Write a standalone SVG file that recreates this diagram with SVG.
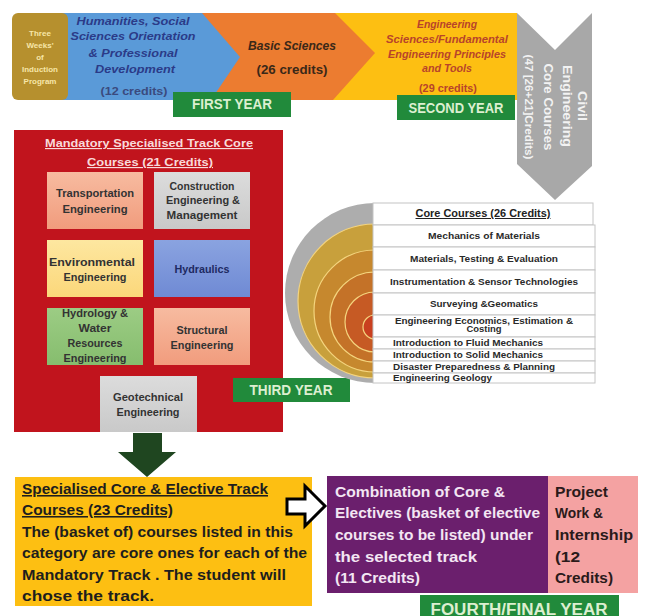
<svg xmlns="http://www.w3.org/2000/svg" width="646" height="616" viewBox="0 0 646 616">
<defs>
<style>
text{font-family:"Liberation Sans",Arial,sans-serif;font-weight:bold}
.m{text-anchor:middle}
.bi{font-style:italic}
.yr rect{fill:#218a3b}
.yr text{fill:#dcefd0;font-size:14px;text-anchor:middle}
.ib text{font-size:11px;fill:#333;text-anchor:middle}
.row{fill:#fff;stroke:#c4c4c4;stroke-width:1}
.rt{font-size:9.5px;fill:#2a2a2a}
.ring{stroke:#f4d47e;stroke-width:1.2}
.ch text{fill:#f2f2f2;text-anchor:middle}
.yb text{font-size:15.5px;fill:#1e1e1e}
.pb text{font-size:15.5px;fill:#f3e6f3}
.kb text{font-size:15.5px;fill:#2a1a1a}
</style>
<linearGradient id="salmon" x1="0" y1="0" x2="0" y2="1"><stop offset="0" stop-color="#f7bba0"/><stop offset="1" stop-color="#f19c7d"/></linearGradient>
<linearGradient id="grey" x1="0" y1="0" x2="0" y2="1"><stop offset="0" stop-color="#dcdcdc"/><stop offset="1" stop-color="#c9c9c9"/></linearGradient>
<linearGradient id="yel" x1="0" y1="0" x2="0" y2="1"><stop offset="0" stop-color="#fde7a0"/><stop offset="1" stop-color="#fbd77a"/></linearGradient>
<linearGradient id="blu" x1="0" y1="0" x2="0" y2="1"><stop offset="0" stop-color="#8aa3e0"/><stop offset="1" stop-color="#6f8ad4"/></linearGradient>
<linearGradient id="grn" x1="0" y1="0" x2="0" y2="1"><stop offset="0" stop-color="#9ccc84"/><stop offset="1" stop-color="#86bd6e"/></linearGradient>
<clipPath id="half"><rect x="270" y="190" width="105" height="200"/></clipPath>
</defs>
<rect width="646" height="616" fill="#fff"/>

<!-- Top banner -->
<g id="eng-sciences">
<polygon points="325,13 517,13 517,100 325,100" fill="#fdbf12"/>
<text class="m bi" x="447" y="28" font-size="11" fill="#b8442a" textLength="60" lengthAdjust="spacingAndGlyphs">Engineering</text>
<text class="m bi" x="447" y="43" font-size="11" fill="#b8442a" textLength="122" lengthAdjust="spacingAndGlyphs">Sciences/Fundamental</text>
<text class="m bi" x="447" y="58" font-size="11" fill="#b8442a" textLength="118" lengthAdjust="spacingAndGlyphs">Engineering  Principles</text>
<text class="m bi" x="447" y="72" font-size="11" fill="#b8442a" textLength="50" lengthAdjust="spacingAndGlyphs">and Tools</text>
<text class="m" x="448" y="92" font-size="11" fill="#b8442a" textLength="58" lengthAdjust="spacingAndGlyphs">(29 credits)</text>
</g>
<g id="basic-sciences">
<polygon points="195,13 335,13 375,53 333,100 195,100" fill="#ec7c30"/>
<text class="m bi" x="292" y="50" font-size="12" fill="#3a2818" textLength="88" lengthAdjust="spacingAndGlyphs">Basic Sciences</text>
<text class="m" x="292" y="74" font-size="12" fill="#3a2818" textLength="71" lengthAdjust="spacingAndGlyphs">(26 credits)</text>
</g>
<g id="humanities">
<polygon points="60,13 202,13 240,57 211,100 60,100" fill="#5a9ad8"/>
<text class="m bi" x="133" y="25" font-size="11.5" fill="#2b3b88" textLength="113" lengthAdjust="spacingAndGlyphs">Humanities, Social</text>
<text class="m bi" x="133" y="40" font-size="11.5" fill="#2b3b88" textLength="125" lengthAdjust="spacingAndGlyphs">Sciences Orientation</text>
<text class="m bi" x="133" y="57" font-size="11.5" fill="#2b3b88" textLength="89" lengthAdjust="spacingAndGlyphs">&amp; Professional</text>
<text class="m bi" x="135" y="73" font-size="11.5" fill="#2b3b88" textLength="80" lengthAdjust="spacingAndGlyphs">Development</text>
<text class="m" x="134" y="95" font-size="11.5" fill="#3a4a7e" textLength="67" lengthAdjust="spacingAndGlyphs">(12 credits)</text>
</g>
<g id="induction">
<rect x="12" y="13" width="56" height="87" rx="6" fill="#b6902e"/>
<text class="m" x="40" y="36" font-size="8" fill="#f6e6a8">Three</text>
<text class="m" x="40" y="48" font-size="8" fill="#f6e6a8">Weeks'</text>
<text class="m" x="40" y="60" font-size="8" fill="#f6e6a8">of</text>
<text class="m" x="40" y="72" font-size="8" fill="#f6e6a8">Induction</text>
<text class="m" x="40" y="84" font-size="8" fill="#f6e6a8">Program</text>
</g>
<g id="first-year" class="yr">
<rect x="173" y="92" width="118" height="25"/>
<text x="232" y="109" textLength="80" lengthAdjust="spacingAndGlyphs">FIRST YEAR</text>
</g>
<g id="second-year" class="yr">
<rect x="397" y="95" width="118" height="25"/>
<text x="456" y="113" textLength="95" lengthAdjust="spacingAndGlyphs">SECOND YEAR</text>
</g>

<!-- Civil engineering core chevron -->
<g id="civil-core" class="ch">
<polygon points="517,13 555,50 592,13 592,166 555,200 517,164" fill="#a8a8a8"/>
<text transform="translate(578,106) rotate(90)" font-size="13" textLength="30" lengthAdjust="spacingAndGlyphs">Civil</text>
<text transform="translate(563,106) rotate(90)" font-size="13" textLength="82" lengthAdjust="spacingAndGlyphs">Engineering</text>
<text transform="translate(544,107) rotate(90)" font-size="13" textLength="87" lengthAdjust="spacingAndGlyphs">Core Courses</text>
<text transform="translate(525,107) rotate(90)" font-size="10" textLength="105" lengthAdjust="spacingAndGlyphs">(47 [26+21]Credits)</text>
</g>

<!-- Mandatory specialised track -->
<g id="mandatory-track">
<rect x="14" y="130" width="269" height="302" fill="#c1141d"/>
<text class="m" x="149" y="147" font-size="11.5" fill="#f8dada" text-decoration="underline" textLength="208" lengthAdjust="spacingAndGlyphs">Mandatory Specialised Track Core</text>
<text class="m" x="150" y="166" font-size="11.5" fill="#f8dada" text-decoration="underline" textLength="126" lengthAdjust="spacingAndGlyphs">Courses  (21 Credits)</text>
</g>
<g id="transportation" class="ib">
<rect x="47" y="172" width="96" height="57" fill="url(#salmon)"/>
<text x="95" y="197" textLength="78" lengthAdjust="spacingAndGlyphs">Transportation</text>
<text x="95" y="213" textLength="65" lengthAdjust="spacingAndGlyphs">Engineering</text>
</g>
<g id="construction" class="ib">
<rect x="154" y="172" width="96" height="57" fill="url(#grey)"/>
<text x="202" y="190" textLength="65" lengthAdjust="spacingAndGlyphs">Construction</text>
<text x="203" y="204" textLength="74" lengthAdjust="spacingAndGlyphs">Engineering &amp;</text>
<text x="202" y="219" textLength="71" lengthAdjust="spacingAndGlyphs">Management</text>
</g>
<g id="environmental" class="ib">
<rect x="47" y="240" width="96" height="57" fill="url(#yel)"/>
<text x="92" y="266" textLength="86" lengthAdjust="spacingAndGlyphs">Environmental</text>
<text x="95" y="281" textLength="63" lengthAdjust="spacingAndGlyphs">Engineering</text>
</g>
<g id="hydraulics" class="ib">
<rect x="154" y="240" width="96" height="57" fill="url(#blu)"/>
<text x="202" y="273" textLength="55" lengthAdjust="spacingAndGlyphs" style="fill:#1e2a62">Hydraulics</text>
</g>
<g id="hydrology" class="ib">
<rect x="47" y="308" width="96" height="57" fill="url(#grn)"/>
<text x="95" y="317" textLength="66" lengthAdjust="spacingAndGlyphs">Hydrology &amp;</text>
<text x="95" y="332" textLength="33" lengthAdjust="spacingAndGlyphs">Water</text>
<text x="95" y="347" textLength="55" lengthAdjust="spacingAndGlyphs">Resources</text>
<text x="95" y="362" textLength="63" lengthAdjust="spacingAndGlyphs">Engineering</text>
</g>
<g id="structural" class="ib">
<rect x="154" y="308" width="96" height="57" fill="url(#salmon)"/>
<text x="202" y="334" textLength="51" lengthAdjust="spacingAndGlyphs">Structural</text>
<text x="202" y="349" textLength="63" lengthAdjust="spacingAndGlyphs">Engineering</text>
</g>
<g id="geotechnical" class="ib">
<rect x="100" y="376" width="97" height="56" fill="url(#grey)"/>
<text x="148" y="401" textLength="70" lengthAdjust="spacingAndGlyphs">Geotechnical</text>
<text x="148" y="416" textLength="63" lengthAdjust="spacingAndGlyphs">Engineering</text>
</g>
<g id="third-year" class="yr">
<rect x="233" y="378" width="117" height="24"/>
<text x="291" y="395" textLength="83" lengthAdjust="spacingAndGlyphs">THIRD YEAR</text>
</g>

<!-- Core courses semicircle + table -->
<g id="core-rings" clip-path="url(#half)">
<circle cx="375" cy="293" r="90" fill="#adadad"/>
<circle class="ring" cx="375" cy="301" r="77" fill="#c8a03c"/>
<circle class="ring" cx="375" cy="311" r="61" fill="#c6882e"/>
<circle class="ring" cx="375" cy="317" r="45" fill="#c47228"/>
<circle class="ring" cx="375" cy="322" r="30" fill="#c65a24"/>
<circle class="ring" cx="375" cy="327" r="12" fill="#c9401f"/>
</g>
<g id="core-courses">
<rect class="row" x="373" y="203" width="220" height="22"/>
<text class="m" x="483" y="217" font-size="10" fill="#222" text-decoration="underline" textLength="135" lengthAdjust="spacingAndGlyphs">Core Courses  (26 Credits)</text>
<rect class="row" x="373" y="225" width="222" height="22"/>
<text class="m rt" x="484" y="239" textLength="112" lengthAdjust="spacingAndGlyphs">Mechanics of Materials</text>
<rect class="row" x="373" y="247" width="222" height="23"/>
<text class="m rt" x="484" y="262" textLength="148" lengthAdjust="spacingAndGlyphs">Materials, Testing &amp; Evaluation</text>
<rect class="row" x="373" y="270" width="222" height="23"/>
<text class="m rt" x="484" y="285" textLength="188" lengthAdjust="spacingAndGlyphs">Instrumentation &amp; Sensor Technologies</text>
<rect class="row" x="373" y="293" width="222" height="22"/>
<text class="m rt" x="484" y="307" textLength="108" lengthAdjust="spacingAndGlyphs">Surveying &amp;Geomatics</text>
<rect class="row" x="373" y="315" width="222" height="22"/>
<text class="m rt" x="484" y="324" textLength="178" lengthAdjust="spacingAndGlyphs">Engineering Economics, Estimation &amp;</text>
<text class="m rt" x="484" y="332" textLength="35" lengthAdjust="spacingAndGlyphs">Costing</text>
<rect class="row" x="373" y="337" width="222" height="12"/>
<text class="rt" x="393" y="346" textLength="150" lengthAdjust="spacingAndGlyphs">Introduction to Fluid Mechanics</text>
<rect class="row" x="373" y="349" width="222" height="12"/>
<text class="rt" x="393" y="358" textLength="150" lengthAdjust="spacingAndGlyphs">Introduction to  Solid Mechanics</text>
<rect class="row" x="373" y="361" width="222" height="12"/>
<text class="rt" x="393" y="370" textLength="162" lengthAdjust="spacingAndGlyphs">Disaster Preparedness &amp; Planning</text>
<rect class="row" x="373" y="373" width="222" height="10"/>
<text class="rt" x="393" y="381" textLength="99" lengthAdjust="spacingAndGlyphs">Engineering Geology</text>
</g>

<!-- Fourth year -->
<g id="specialised-elective" class="yb">
<rect x="15" y="477" width="297" height="129" fill="#fdbf12"/>
<text x="22" y="494" text-decoration="underline" textLength="246" lengthAdjust="spacingAndGlyphs">Specialised Core &amp; Elective Track</text>
<text x="22" y="515" text-decoration="underline" textLength="151" lengthAdjust="spacingAndGlyphs">Courses (23 Credits)</text>
<text x="22" y="537" textLength="271" lengthAdjust="spacingAndGlyphs">The (basket of) courses listed in this</text>
<text x="22" y="558" textLength="285" lengthAdjust="spacingAndGlyphs">category are core ones for each of the</text>
<text x="22" y="580" textLength="264" lengthAdjust="spacingAndGlyphs">Mandatory Track . The student will</text>
<text x="22" y="601" textLength="132" lengthAdjust="spacingAndGlyphs">chose the track.</text>
</g>
<g id="combination" class="pb">
<rect x="327" y="476" width="221" height="117" fill="#6b1f6d"/>
<text x="335" y="497" textLength="170" lengthAdjust="spacingAndGlyphs">Combination of Core &amp;</text>
<text x="335" y="518" textLength="205" lengthAdjust="spacingAndGlyphs">Electives (basket of elective</text>
<text x="335" y="540" textLength="198" lengthAdjust="spacingAndGlyphs">courses to be listed) under</text>
<text x="335" y="562" textLength="142" lengthAdjust="spacingAndGlyphs">the selected track</text>
<text x="335" y="583" textLength="85" lengthAdjust="spacingAndGlyphs">(11 Credits)</text>
</g>
<g id="project-work" class="kb">
<rect x="548" y="476" width="90" height="117" fill="#f4a2a2"/>
<text x="555" y="497" textLength="53" lengthAdjust="spacingAndGlyphs">Project</text>
<text x="555" y="518" textLength="48" lengthAdjust="spacingAndGlyphs">Work &amp;</text>
<text x="555" y="540" textLength="78" lengthAdjust="spacingAndGlyphs">Internship</text>
<text x="555" y="562" textLength="25" lengthAdjust="spacingAndGlyphs">(12</text>
<text x="555" y="583" textLength="58" lengthAdjust="spacingAndGlyphs">Credits)</text>
</g>
<g id="fourth-year" class="yr">
<rect x="420" y="595" width="199" height="25"/>
<text x="519" y="615" style="font-size:16px" textLength="177" lengthAdjust="spacingAndGlyphs">FOURTH/FINAL YEAR</text>
</g>

<!-- Connectors -->
<g id="connectors">
<polygon points="133,433 162,433 162,452 176,452 147,477 118,452 133,452" fill="#1f4620"/>
<polygon points="287,499 305,499 305,486 325,506 305,526 305,514 287,514" fill="#fff" stroke="#000" stroke-width="3" stroke-linejoin="miter"/>
</g>
</svg>
